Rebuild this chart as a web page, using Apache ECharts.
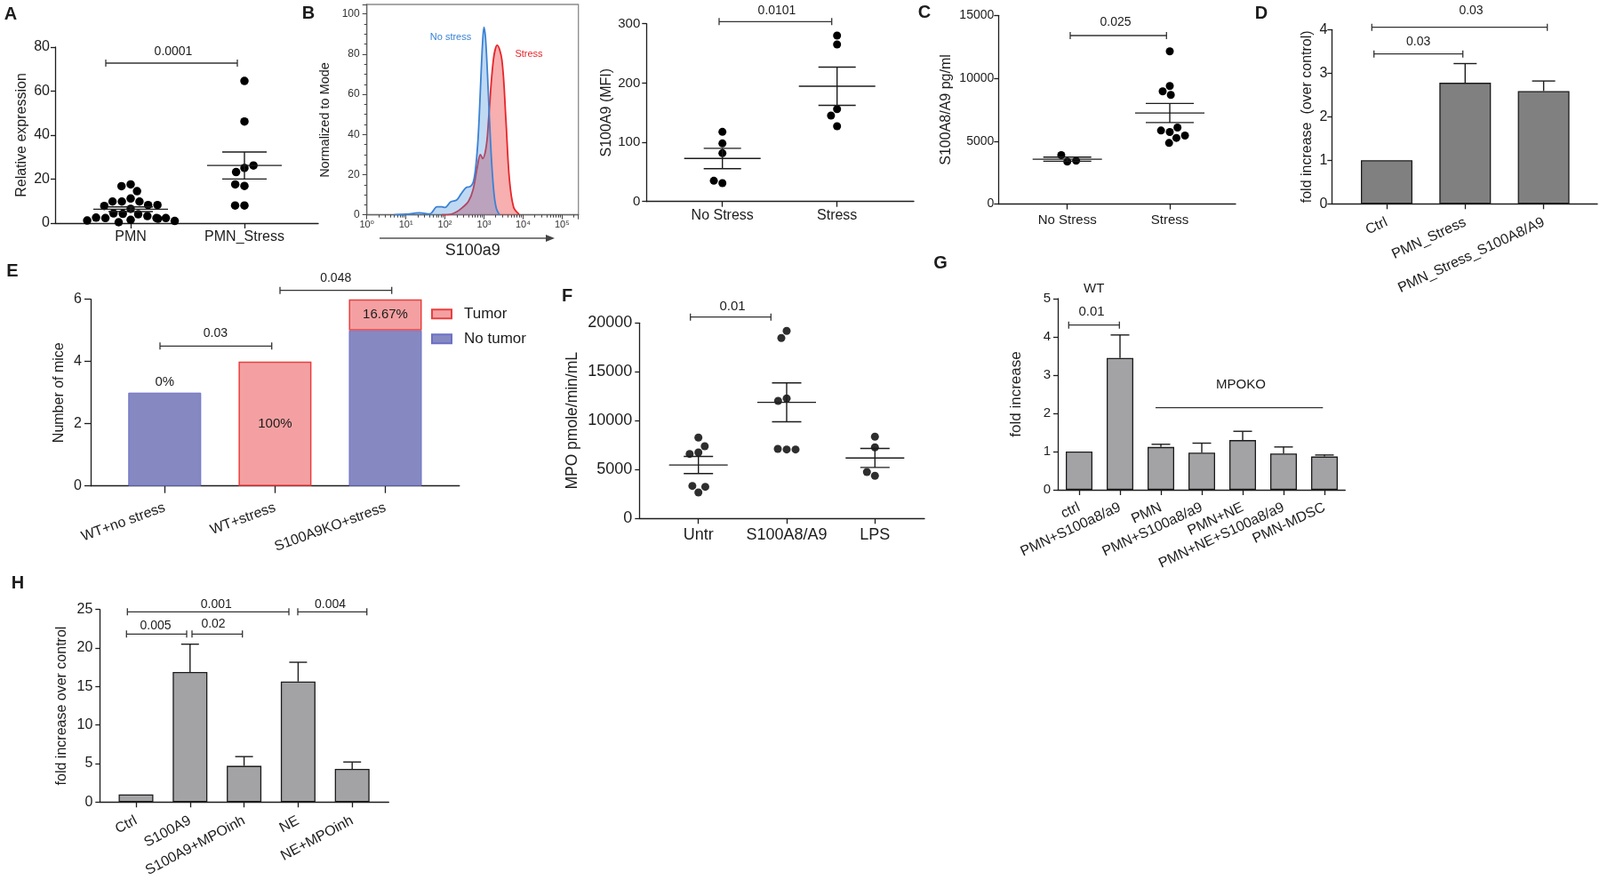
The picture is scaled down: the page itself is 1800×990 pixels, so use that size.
<!DOCTYPE html>
<html><head><meta charset="utf-8">
<script src="https://cdn.jsdelivr.net/npm/echarts@6/dist/echarts.min.js"></script>
<style>html,body{margin:0;padding:0;background:#fff}#c{width:1800px;height:990px}</style>
</head><body><div id="c"></div>
<script>
const FONT = '"Liberation Sans", Arial, "DejaVu Sans", sans-serif';
const INK = '#1c1c1c';

// ===== DATA =====
// Panel A
const aCategories = ['PMN', 'PMN_Stress'];
const aPMN = [17.6, 16.8, 14.5, 11.2, 9.8, 9.8, 9.8, 8.2, 8.2, 7.8, 6.5, 4.2, 4.0, 4.4, 3.2, 2.3, 2.3, 2.5, 2.3, 1.5, 1.2, 1.0, 0.4, 2.0];
const aPMNStress = [64.6, 46.2, 25.1, 23.2, 26.2, 16.9, 17.6, 8.0, 8.0];
// Panel B histogram (fluorescence intensity, % of mode)
const bNoStressX = [5, 10, 22, 41, 63, 83, 100, 141, 200, 257, 355, 437, 525, 600, 690, 760, 850, 930, 1000, 1096, 1230, 1380, 1585, 1820, 2090, 2512];
const bNoStressY = [0, 0.3, 1, 0.5, 4, 4, 3.7, 6.5, 7.4, 10.3, 13.7, 14, 16, 22, 35, 50, 72, 87, 93.4, 88, 70, 48, 25, 10, 3, 0];
const bStressX = [83, 141, 200, 282, 398, 525, 676, 813, 933, 1072, 1202, 1318, 1738, 2188, 2884, 3630, 4467, 5754, 7943];
const bStressY = [0, 0.3, 1.5, 3.7, 6.6, 12.5, 24, 30, 28, 31, 37.6, 48, 77, 84.4, 77, 48, 18, 3.7, 0.3];
// Panel B MFI
const bCategories = ['No Stress', 'Stress'];
const bMfiNoStress = [117.5, 98, 81.5, 31, 35];
const bMfiStress = [280, 265, 156, 145, 127];
// Panel C
const cCategories = ['No Stress', 'Stress'];
const cNoStress = [3373, 3892, 3443];
const cStress = [12146, 9387, 8962, 8679, 5731, 5849, 6085, 5259, 5448, 4858];
// Panel D
const dCategories = ['Ctrl', 'PMN_Stress', 'PMN_Stress_S100A8/A9'];
const dValues = [1.0, 2.78, 2.59];
const dErrors = [0, 0.44, 0.23];
// Panel E
const eCategories = ['WT+no stress', 'WT+stress', 'S100A9KO+stress'];
const eNoTumor = [3, 0, 5];
const eTumor = [0, 4, 1];
// Panel F
const fCategories = ['Untr', 'S100A8/A9', 'LPS'];
const fUntr = [2667, 3333, 3242, 6758, 6606, 7394, 8273];
const fS100 = [19182, 18455, 12273, 12030, 7061, 7121, 7061];
const fLPS = [8364, 7273, 4364, 4758];
// Panel G
const gCategories = ['ctrl', 'PMN+S100a8/a9', 'PMN', 'PMN+S100a8/a9', 'PMN+NE', 'PMN+NE+S100a8/a9', 'PMN-MDSC'];
const gValues = [1.0, 3.45, 1.12, 0.97, 1.30, 0.95, 0.87];
const gErrors = [0, 0.60, 0.07, 0.25, 0.23, 0.17, 0.04];
// Panel H
const hCategories = ['Ctrl', 'S100A9', 'S100A9+MPOinh', 'NE', 'NE+MPOinh'];
const hValues = [1.0, 16.9, 4.7, 15.65, 4.3];
const hErrors = [0, 3.6, 1.2, 2.5, 0.9];
// significance labels
const pA = ['0.0001'];
const pB = ['0.0101'];
const pC = ['0.025'];
const pD = ['0.03', '0.03'];
const pE = ['0.03', '0.048'];
const pF = ['0.01'];
const pG = ['0.01'];
const pH = ['0.005', '0.02', '0.001', '0.004'];

// ===== BUILD =====
const grids = [], xAxes = [], yAxes = [], series = [], graphics = [];
const LINE = {color: INK, width: 1.3};
function txt(fs, extra) { return Object.assign({color: INK, fontSize: fs, fontFamily: FONT}, extra || {}); }
const numFmt = v => String(v);

function addPanel(p) {
  const gi = grids.length;
  const n = p.cats.length;
  const left = p.c0 - p.sp / 2;
  const h = p.bottom - p.top;
  grids.push({left: left, top: p.top, width: p.sp * n, height: h, outerBoundsMode: 'none', containLabel: false});
  grids.push({left: p.yAxisX, top: p.top, width: p.axisEndX - p.yAxisX, height: h, outerBoundsMode: 'none', containLabel: false});
  const xi = xAxes.length, yi = yAxes.length;
  xAxes.push({
    type: 'category', gridIndex: gi, data: p.cats, boundaryGap: true,
    jitter: p.jitter || 0, jitterOverlap: false, jitterMargin: 1,
    axisLine: {show: false},
    axisTick: {show: true, alignWithLabel: true, length: p.xTick || 6, lineStyle: LINE},
    axisLabel: txt(p.xFont, {interval: 0, rotate: p.rotate || 0, margin: p.xMargin}),
    splitLine: {show: false}
  });
  xAxes.push({type: 'value', gridIndex: gi + 1, min: 0, max: 1,
    axisLine: {show: true, onZero: false, lineStyle: LINE}, axisTick: {show: false},
    axisLabel: {show: false}, splitLine: {show: false}});
  yAxes.push({
    type: 'value', gridIndex: gi, min: 0, max: p.max, interval: p.interval,
    offset: left - p.yAxisX,
    axisLine: {show: true, lineStyle: LINE},
    axisTick: {show: true, length: p.yTick || 5, lineStyle: LINE},
    axisLabel: txt(p.yFont, {margin: p.yMargin, formatter: numFmt}),
    splitLine: {show: false},
    name: p.yName, nameLocation: 'middle', nameGap: p.nameGap, nameRotate: 90,
    nameMoveOverlap: false, nameTextStyle: txt(p.nameFont)
  });
  yAxes.push({type: 'value', gridIndex: gi + 1, min: 0, max: 1, show: false});
  return {x: xi, y: yi};
}

function addScatter(ax, groups, color, size) {
  groups.forEach((g, i) => {
    series.push({type: 'scatter', xAxisIndex: ax.x, yAxisIndex: ax.y,
      data: g.map(v => [i, v]), symbolSize: size, silent: true, z: 3,
      itemStyle: {color: color, opacity: 1}});
  });
}

function addMeanSem(ax, groups, halfMean, halfCap) {
  const data = groups.map((g, i) => {
    const m = g.reduce((s, v) => s + v, 0) / g.length;
    const sd = Math.sqrt(g.reduce((s, v) => s + (v - m) * (v - m), 0) / (g.length - 1));
    return [i, m, sd / Math.sqrt(g.length)];
  });
  series.push({
    type: 'custom', xAxisIndex: ax.x, yAxisIndex: ax.y, data: data, silent: true, z: 4,
    renderItem: function (params, api) {
      const i = api.value(0), m = api.value(1), s = api.value(2);
      const c = api.coord([i, m]), lo = api.coord([i, m - s]), hi = api.coord([i, m + s]);
      const st = {stroke: INK, lineWidth: 1.4};
      return {type: 'group', children: [
        {type: 'line', shape: {x1: c[0] - halfMean, y1: c[1], x2: c[0] + halfMean, y2: c[1]}, style: st},
        {type: 'line', shape: {x1: c[0], y1: lo[1], x2: c[0], y2: hi[1]}, style: st},
        {type: 'line', shape: {x1: c[0] - halfCap, y1: lo[1], x2: c[0] + halfCap, y2: lo[1]}, style: st},
        {type: 'line', shape: {x1: c[0] - halfCap, y1: hi[1], x2: c[0] + halfCap, y2: hi[1]}, style: st}
      ]};
    }
  });
}

function addBars(ax, values, errors, fill, barWidth, halfCap) {
  series.push({type: 'bar', xAxisIndex: ax.x, yAxisIndex: ax.y, data: values, barWidth: barWidth,
    silent: true, z: 2, itemStyle: {color: fill, borderColor: INK, borderWidth: 1.3}});
  series.push({type: 'custom', xAxisIndex: ax.x, yAxisIndex: ax.y, silent: true, z: 5,
    data: values.map((v, i) => [i, v, errors[i]]),
    renderItem: function (params, api) {
      const i = api.value(0), v = api.value(1), e = api.value(2);
      if (!(e > 0)) return null;
      const b = api.coord([i, v]), t = api.coord([i, v + e]);
      const st = {stroke: INK, lineWidth: 1.4};
      return {type: 'group', children: [
        {type: 'line', shape: {x1: b[0], y1: b[1], x2: b[0], y2: t[1]}, style: st},
        {type: 'line', shape: {x1: b[0] - halfCap, y1: t[1], x2: b[0] + halfCap, y2: t[1]}, style: st}
      ]};
    }});
}

function bracket(x1, x2, y, label, tx, ty, fs) {
  const st = {stroke: '#333', lineWidth: 1.3};
  graphics.push({type: 'line', silent: true, shape: {x1: x1, y1: y, x2: x2, y2: y}, style: st});
  graphics.push({type: 'line', silent: true, shape: {x1: x1, y1: y - 4, x2: x1, y2: y + 4}, style: st});
  graphics.push({type: 'line', silent: true, shape: {x1: x2, y1: y - 4, x2: x2, y2: y + 4}, style: st});
  textAt(label, tx, ty, fs || 14);
}
function textAt(label, x, y, fs, opts) {
  opts = opts || {};
  graphics.push({type: 'text', silent: true, x: x, y: y, rotation: opts.rotation || 0,
    style: {text: label, fill: opts.color || INK, fontSize: fs, fontFamily: FONT,
      fontWeight: opts.bold ? 'bold' : 'normal', align: opts.align || 'center', verticalAlign: 'middle'}});
}

// ---- Panel A
const A = addPanel({yAxisX: 62, axisEndX: 358, top: 53, bottom: 251, c0: 147, sp: 128, cats: aCategories,
  max: 80, interval: 20, yName: 'Relative expression', nameGap: 29, nameFont: 16, xFont: 16, yFont: 16,
  xMargin: 8, yMargin: 6, jitter: 100});
addScatter(A, [aPMN, aPMNStress], '#000', 9.5);
addMeanSem(A, [aPMN, aPMNStress], 42, 25);
bracket(119, 267, 71, pA[0], 195, 58, 14);

// ---- Panel B histogram
const gFlow = grids.length;
grids.push({left: 412.7, top: 5, width: 238, height: 236.7, show: true, borderColor: '#8a8a8a', borderWidth: 1.3,
  backgroundColor: 'transparent', outerBoundsMode: 'none', containLabel: false});
const SUP = ['\u2070', '\u00b9', '\u00b2', '\u00b3', '\u2074', '\u2075', '\u2076'];
const flowX = xAxes.length, flowY = yAxes.length;
xAxes.push({type: 'log', logBase: 10, gridIndex: gFlow, min: 1, max: 262144,
  axisLine: {show: true, onZero: false, lineStyle: {color: '#666', width: 1.3}},
  axisTick: {show: true, length: 5, lineStyle: {color: '#444'}},
  minorTick: {show: true, splitNumber: 9, length: 3, lineStyle: {color: '#444'}},
  axisLabel: {color: '#333', fontSize: 11, fontFamily: FONT, margin: 6,
    formatter: function (v) {
      const e = Math.round(Math.log10(v));
      if (Math.abs(Math.pow(10, e) - v) > 1e-6 * v) return '';
      return '10' + SUP[e];
    }},
  splitLine: {show: false},
  name: 'S100a9', nameLocation: 'middle', nameGap: 31, nameTextStyle: txt(18)});
yAxes.push({type: 'value', gridIndex: gFlow, min: 0, max: 104.7, interval: 20,
  axisLine: {show: true, lineStyle: {color: '#666', width: 1.3}},
  axisTick: {show: true, length: 5, lineStyle: {color: '#444'}},
  minorTick: {show: true, splitNumber: 4, length: 3, lineStyle: {color: '#444'}},
  axisLabel: {color: '#333', fontSize: 12, fontFamily: FONT, margin: 8,
    formatter: v => (Math.abs(v % 20) < 1e-9 ? String(v) : '')},
  splitLine: {show: false}});
series.push({type: 'line', xAxisIndex: flowX, yAxisIndex: flowY, silent: true, z: 2,
  data: bStressX.map((x, i) => [x, bStressY[i]]), smooth: 0.35, showSymbol: false,
  lineStyle: {color: '#e8252a', width: 1.8}, areaStyle: {color: 'rgba(238,72,72,0.62)'}});
series.push({type: 'line', xAxisIndex: flowX, yAxisIndex: flowY, silent: true, z: 3,
  data: bNoStressX.map((x, i) => [x, bNoStressY[i]]), smooth: 0.35, showSymbol: false,
  lineStyle: {color: '#3a82d4', width: 1.8}, areaStyle: {color: 'rgba(66,142,220,0.48)'}});
textAt('No stress', 507, 42, 11, {color: '#3a82d4'});
textAt('Stress', 595, 61, 11, {color: '#e8252a'});
textAt('Normalized to Mode', 366, 135, 14.5, {rotation: Math.PI / 2});
graphics.push({type: 'line', silent: true, shape: {x1: 427, y1: 268, x2: 617, y2: 268}, style: {stroke: '#555', lineWidth: 1.3}});
graphics.push({type: 'polygon', silent: true, shape: {points: [[624, 268], [614, 264], [614, 272]]}, style: {fill: '#444'}});

// ---- Panel B MFI
const M = addPanel({yAxisX: 727.3, axisEndX: 1028, top: 26.7, bottom: 226.7, c0: 812.7, sp: 129, cats: bCategories,
  max: 300, interval: 100, yName: 'S100A9 (MFI)', nameGap: 37, nameFont: 16, xFont: 16, yFont: 15,
  xMargin: 8, yMargin: 7, jitter: 40});
addScatter(M, [bMfiNoStress, bMfiStress], '#000', 9);
addMeanSem(M, [bMfiNoStress, bMfiStress], 43, 21);
bracket(809, 935.7, 24.3, pB[0], 874, 12.3, 14);

// ---- Panel C
const C = addPanel({yAxisX: 1123.3, axisEndX: 1390, top: 17.3, bottom: 229.6, c0: 1200.7, sp: 115.3, cats: cCategories,
  max: 15000, interval: 5000, yName: 'S100A8/A9 pg/ml', nameGap: 51, nameFont: 16, xFont: 15, yFont: 14,
  xMargin: 11, yMargin: 5, jitter: 50});
addScatter(C, [cNoStress, cStress], '#000', 9);
addMeanSem(C, [cNoStress, cStress], 39, 27);
bracket(1204, 1312.3, 40, pC[0], 1255, 25, 14);

// ---- Panel D
const D = addPanel({yAxisX: 1498.3, axisEndX: 1797, top: 33.3, bottom: 229.3, c0: 1560, sp: 88.3, cats: dCategories,
  max: 4, interval: 1, yName: 'fold increase  (over control)', nameGap: 20, nameFont: 16, xFont: 16, yFont: 16,
  rotate: 25, xMargin: 20, yMargin: 5});
addBars(D, dValues, dErrors, '#808080', 58, 13);
bracket(1545.7, 1645.7, 60.7, pD[0], 1595.7, 47.3, 14);
bracket(1543.3, 1740.7, 30.7, pD[1], 1655, 11.7, 14);

// ---- Panel E
const E = addPanel({yAxisX: 102, axisEndX: 516.8, top: 336.7, bottom: 546.7, c0: 185.3, sp: 124.1, cats: eCategories,
  max: 6, interval: 2, yName: 'Number of mice', nameGap: 27, nameFont: 16, xFont: 16, yFont: 16,
  rotate: 20, xMargin: 24, yMargin: 10, xTick: 8, yTick: 7});
const ePct = eTumor.map((t, i) => parseFloat((100 * t / (t + eNoTumor[i])).toFixed(2)) + '%');
const lbl = txt(15, {show: true});
series.push({name: 'No tumor', type: 'bar', stack: 'e', xAxisIndex: E.x, yAxisIndex: E.y, barWidth: 82, silent: true, z: 2,
  itemStyle: {color: '#8688c2', borderColor: '#6b70c6', borderWidth: 1},
  data: eNoTumor.map((v, i) => {
    const item = {value: v === 0 ? '-' : v};
    if (eTumor[i] === 0) item.label = Object.assign({position: 'top', distance: 4, formatter: ePct[i]}, lbl);
    return item;
  })});
series.push({name: 'Tumor', type: 'bar', stack: 'e', xAxisIndex: E.x, yAxisIndex: E.y, barWidth: 82, silent: true, z: 2,
  itemStyle: {color: '#f4a0a2', borderColor: '#e8403f', borderWidth: 1.5},
  data: eTumor.map((v, i) => {
    const item = {value: v === 0 ? '-' : v};
    if (v !== 0) item.label = Object.assign({position: 'inside', formatter: ePct[i]}, lbl);
    return item;
  })});
bracket(180, 305.7, 389.3, pE[0], 242.4, 375, 14);
bracket(315, 440.7, 326.7, pE[1], 377.7, 312.7, 14);

// ---- Panel F
const F = addPanel({yAxisX: 719.3, axisEndX: 1040, top: 363.3, bottom: 583.3, c0: 785.7, sp: 99.3, cats: fCategories,
  max: 20000, interval: 5000, yName: 'MPO pmole/min/mL', nameGap: 66, nameFont: 17.5, xFont: 18, yFont: 18,
  xMargin: 10, yMargin: 8, jitter: 45});
addScatter(F, [fUntr, fS100, fLPS], '#2e2e2e', 9);
addMeanSem(F, [fUntr, fS100, fLPS], 33, 16.5);
bracket(776.7, 867.3, 356.7, pF[0], 824, 345, 15);

// ---- Panel G
const G = addPanel({yAxisX: 1190, axisEndX: 1513.3, top: 336, bottom: 551, c0: 1214, sp: 46, cats: gCategories,
  max: 5, interval: 1, yName: 'fold increase', nameGap: 38, nameFont: 17, xFont: 16, yFont: 15,
  rotate: 25, xMargin: 19, yMargin: 8});
addBars(G, gValues, gErrors, '#a3a3a6', 30, 10.5);
bracket(1202.3, 1259.3, 365.7, pG[0], 1228, 351, 15);
textAt('WT', 1230.7, 325, 15);
textAt('MPOKO', 1396, 433.3, 15);
graphics.push({type: 'line', silent: true, shape: {x1: 1300, y1: 458.7, x2: 1488.3, y2: 458.7}, style: {stroke: '#333', lineWidth: 1.3}});

// ---- Panel H
const H = addPanel({yAxisX: 112.3, axisEndX: 437.3, top: 685.7, bottom: 902.3, c0: 153, sp: 60.8, cats: hCategories,
  max: 25, interval: 5, yName: 'fold increase over control', nameGap: 35, nameFont: 16, xFont: 16, yFont: 16,
  rotate: 28, xMargin: 20, yMargin: 8});
addBars(H, hValues, hErrors, '#a3a3a6', 39, 10);
bracket(142.3, 210, 713.3, pH[0], 175, 704, 14);
bracket(216, 272.7, 713.3, pH[1], 240, 702, 14);
bracket(143.3, 325, 688.3, pH[2], 243.3, 680, 14);
bracket(335, 412.7, 688.3, pH[3], 371.5, 680, 14);

// ---- Panel letters
[['A', 12, 16], ['B', 347, 15], ['C', 1040, 14], ['D', 1419, 15], ['E', 14, 305],
 ['F', 638, 333], ['G', 1058, 296], ['H', 20, 656]].forEach(l => textAt(l[0], l[1], l[2], 20, {bold: true}));

const chart = echarts.init(document.getElementById('c'), null, {renderer: 'canvas'});
chart.setOption({
  animation: false,
  backgroundColor: '#fff',
  textStyle: {fontFamily: FONT},
  grid: grids, xAxis: xAxes, yAxis: yAxes, series: series,
  legend: {data: ['Tumor', 'No tumor'], orient: 'vertical', left: 480, top: 339.3, padding: 5,
    itemWidth: 22, itemHeight: 10, itemGap: 10, icon: 'rect', selectedMode: false,
    textStyle: txt(17, {lineHeight: 18, padding: [0, 0, 0, 9]})},
  graphic: graphics
});
</script></body></html>
